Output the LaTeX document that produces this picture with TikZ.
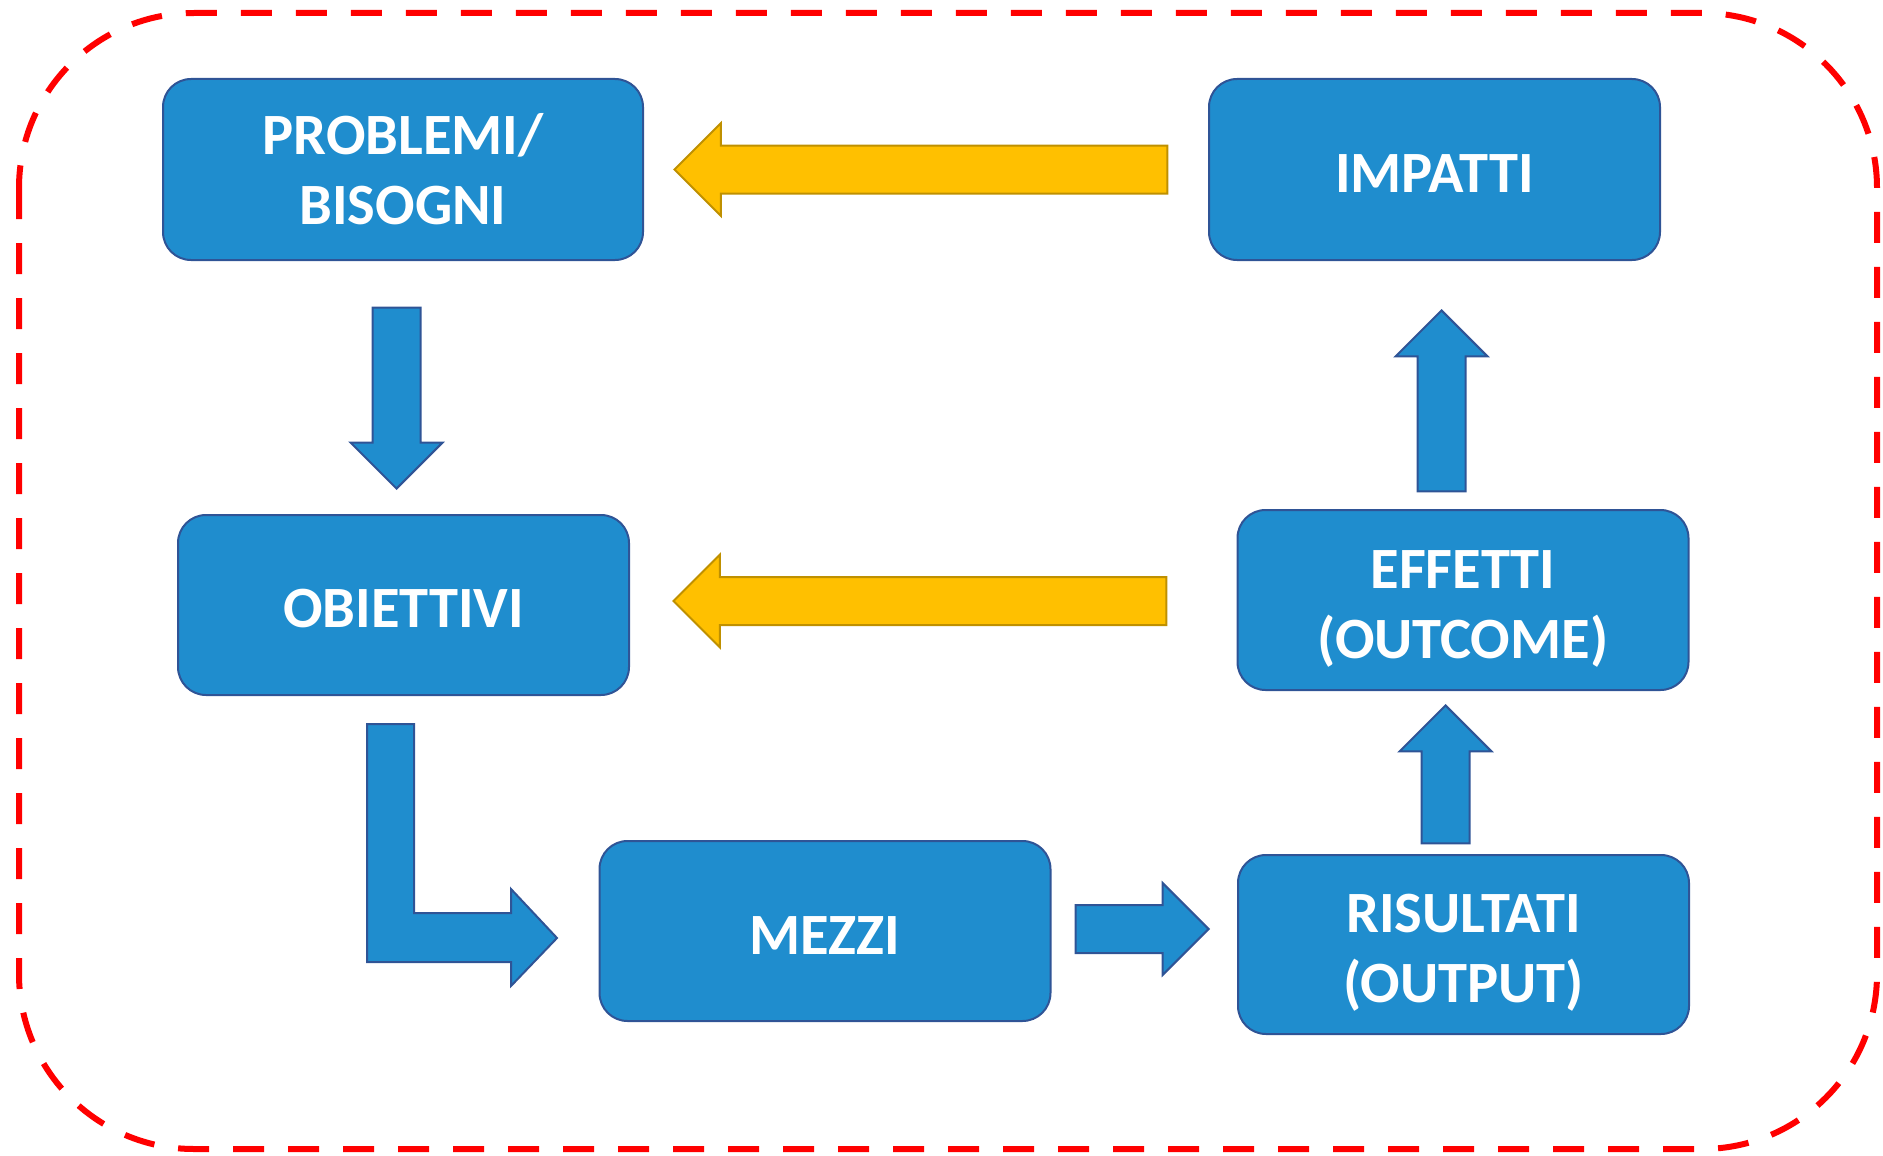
\documentclass[tikz,border=0pt]{standalone}
\usepackage{fontspec}
\setmainfont{Carlito}
\usepackage{tikz}
\usetikzlibrary{shapes.arrows,calc}

\definecolor{boxblue}{RGB}{31,141,206}
\definecolor{boxline}{RGB}{47,84,150}
\definecolor{arrowyellow}{RGB}{255,192,0}
\definecolor{arrowline}{RGB}{191,144,0}

\begin{document}
\begin{tikzpicture}[x=1pt, y=-1pt,
    stage/.style={draw=boxline, line width=2pt, fill=boxblue, rounded corners=28pt,
        minimum width=451pt, minimum height=180pt, align=center, text=white, text height=46pt,
        font=\bfseries\fontsize{58.5}{70}\selectfont},
    twolines/.style={text height={}},
    bluearrow/.style={single arrow, draw=boxline, line width=2pt, fill=boxblue,
        inner xsep=0pt, inner ysep=23pt, single arrow head extend=22pt, anchor=tip},
    uparrow/.style={bluearrow, shape border rotate=90, inner xsep=23pt, inner ysep=0pt},
    downarrow/.style={bluearrow, shape border rotate=270, inner xsep=23pt, inner ysep=0pt},
    yellowarrow/.style={single arrow, draw=arrowline, line width=2pt, fill=arrowyellow,
        inner xsep=0pt, inner ysep=23pt, single arrow head extend=22.5pt,
        shape border rotate=180, minimum height=493pt, anchor=tip},
    frame/.style={draw=red, line width=6pt, dash pattern=on 31pt off 24pt, rounded corners=175pt}]

    \useasboundingbox (0,0) rectangle (1883,1156);
    \draw[frame] (19,13) rectangle (1877,1149);

    \node[stage, twolines, minimum width=480pt, minimum height=181pt] (prob) at (403,169.5) {PROBLEMI/\\BISOGNI};
    \node[stage, minimum height=181pt] (imp) at (1434.5,169.5) {IMPATTI};
    \node[stage] (obj) at (403.5,605) {OBIETTIVI};
    \node[stage, twolines] (eff) at (1463,600) {\rule{0pt}{46pt}EFFETTI\\\smash{(OUTCOME)}};
    \node[stage] (mez) at (825,931) {MEZZI};
    \node[stage, twolines, minimum height=179pt] (ris) at (1463.5,944.5) {\rule{0pt}{46pt}RISULTATI\\\smash{(OUTPUT)}};

    % frecce di ritorno
    \node[yellowarrow] (back1) at ([xshift=29pt]prob.east) {};
    \node[yellowarrow] (back2) at ([xshift=42pt, yshift=4pt]obj.east) {};

    % percorso
    \node[downarrow, minimum height=181pt] (down1) at ([xshift=-7pt, yshift=24pt]obj.north) {};
    \draw[draw=boxline, line width=2pt, fill=boxblue]
        (367,724) -- (414,724) -- (414,913) -- (511,913) -- (511,889) -- (557,938)
        -- (511,986) -- (511,962) -- (367,962) -- cycle;
    \node[bluearrow, minimum height=133pt] (right1) at ([xshift=-27pt, yshift=15.5pt]ris.west) {};
    \node[uparrow, minimum height=138pt] (up1) at ([xshift=-17.5pt, yshift=-13pt]eff.south) {};
    \node[uparrow, minimum height=181pt] (up2) at ([xshift=7pt, yshift=-48pt]imp.south) {};
\end{tikzpicture}
\end{document}
